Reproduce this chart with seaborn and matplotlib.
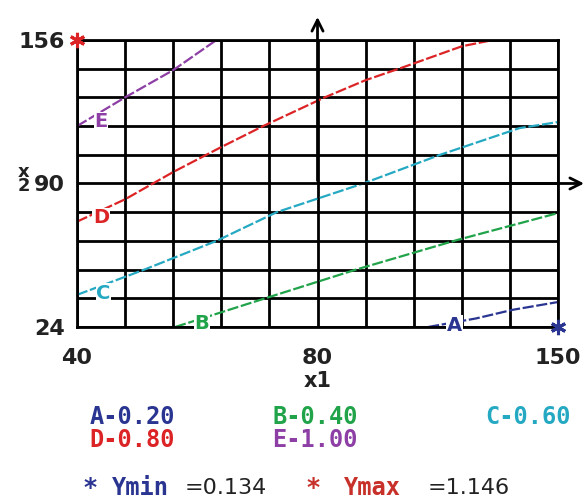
import pandas as pd
import seaborn as sns
import matplotlib.pyplot as plt

# grid coordinates: 10 cells each way (x1: 40..150, x2: 24..156)
a_x = [7.3, 8.3, 9.06, 10.0]
a_y = [0.0, 0.3, 0.6, 0.87]
b_x = [2.04, 3.8, 5.8, 7.9, 10.0]
b_y = [0.0, 0.94, 2.0, 3.03, 3.97]
c_x = [0.0, 1.4, 2.9, 4.15, 5.95, 7.55, 9.2, 10.0]
c_y = [1.12, 2.0, 3.0, 4.0, 5.0, 6.0, 6.93, 7.14]
d_x = [0.0, 1.0, 2.0, 3.0, 3.87, 5.15, 6.0, 6.78, 8.0, 8.65]
d_y = [3.67, 4.45, 5.4, 6.27, 7.0, 8.0, 8.6, 9.05, 9.78, 10.0]
e_x = [0.0, 1.0, 2.0, 2.9]
e_y = [7.0, 8.0, 8.95, 10.0]

names = ["A", "B", "C", "D", "E"]
levels = ["0.20", "0.40", "0.60", "0.80", "1.00"]
colors = {"A": "#2a3592", "B": "#21a34a", "C": "#25a9c2", "D": "#dc2426", "E": "#8d3fa5"}
label_pos = {"A": (7.85, 0.05), "B": (2.6, 0.12), "C": (0.55, 1.18), "D": (0.5, 3.8), "E": (0.5, 7.15)}

x_ticklabels = ["40", "", "", "", "", "80", "", "", "", "", "150"]
y_ticklabels = ["24", "", "", "", "", "90", "", "", "", "", "156"]

ymin_pt = (10, 0)
ymax_pt = (0, 10)

frames = []
for n, xs, ys in zip(names, [a_x, b_x, c_x, d_x, e_x], [a_y, b_y, c_y, d_y, e_y]):
    frames.append(pd.DataFrame({"x1": xs, "x2": ys, "curve": n}))
df = pd.concat(frames)

sns.set_style("white")
fig = plt.figure(figsize=(5.87, 5.01), dpi=100)
ax = fig.add_axes([0.1312, 0.3473, 0.8194, 0.5729])

ax.set_xlim(0, 10)
ax.set_ylim(0, 10)
ax.set_xticks(range(11))
ax.set_yticks(range(11))
ax.set_xticklabels(x_ticklabels)
ax.set_yticklabels(y_ticklabels)
ax.grid(True, color="black", linewidth=2)
ax.set_axisbelow(True)
for s in ax.spines.values():
    s.set_color("black")
    s.set_linewidth(2)
ax.tick_params(axis="both", direction="out", length=7, width=2, color="black",
               labelsize=16)
for t in ax.get_xticklabels() + ax.get_yticklabels():
    t.set_fontweight("bold")
    t.set_color("#222222")
ax.tick_params(axis="x", pad=8)
ax.tick_params(axis="y", pad=2)

for n in names:
    sub = df[df["curve"] == n]
    sns.lineplot(data=sub, x="x1", y="x2", color=colors[n], linewidth=1.6,
                 linestyle=(0, (5, 1.2)), sort=False, ax=ax, legend=False)
    lx, ly = label_pos[n]
    ax.text(lx, ly, n, color=colors[n], fontsize=14, fontweight="bold",
            ha="center", va="center", zorder=5,
            bbox=dict(facecolor="white", edgecolor="none", pad=0.5))

ax.set_xlabel("")
ax.set_ylabel("")

# optimum points
ax.plot(*ymax_pt, marker=(6, 2, 0), color=colors["D"], markersize=11, mew=2.2, clip_on=False, zorder=6)
ax.plot(*ymin_pt, marker=(6, 2, 0), color=colors["A"], markersize=11, mew=2.2, clip_on=False, zorder=6)

# centre axes arrows
ax.annotate("", xy=(5, 10.9), xytext=(5, 5), annotation_clip=False,
            arrowprops=dict(arrowstyle="->", color="black", lw=2, mutation_scale=20))
ax.annotate("", xy=(10.6, 5), xytext=(5, 5), annotation_clip=False,
            arrowprops=dict(arrowstyle="->", color="black", lw=2, mutation_scale=20))

fig.text(318 / 587, 1 - 381 / 501, "x1", fontsize=15, fontweight="bold", ha="center", va="center", color="#222222")
fig.text(24 / 587, 1 - 179 / 501, "x\n2", fontsize=13, fontweight="bold", ha="center", va="center",
         linespacing=0.75, color="#222222")

mono = dict(family="DejaVu Sans Mono", fontsize=17, fontweight="bold", va="center")
rows = [(132, 417), (315, 417), (528, 417), (132, 440), (315, 440)]
for n, lv, (px, py) in zip(names, levels, rows):
    fig.text(px / 587, 1 - py / 501, f"{n}-{lv}", color=colors[n], ha="center", **mono)

by = 1 - 488 / 501
fig.text(90 / 587, by, "*", color=colors["A"], fontsize=18, fontweight="bold", va="center", ha="center")
fig.text(140 / 587, by, "Ymin", color=colors["A"], ha="center", **mono)
fig.text(185 / 587, by, "=0.134", color="#222222", fontsize=16, va="center", ha="left")
fig.text(313 / 587, by, "*", color="#c8302a", fontsize=18, fontweight="bold", va="center", ha="center")
fig.text(372 / 587, by, "Ymax", color="#c8302a", ha="center", **mono)
fig.text(428 / 587, by, "=1.146", color="#222222", fontsize=16, va="center", ha="left")

fig.savefig("out.png", dpi=100)
